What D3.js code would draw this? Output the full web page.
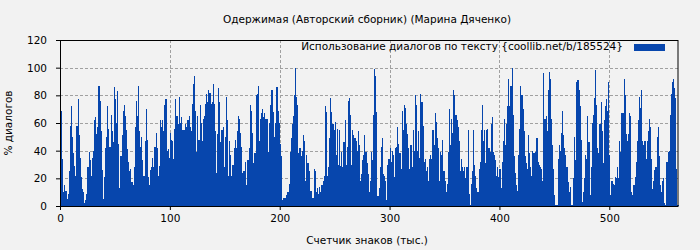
<!DOCTYPE html>
<html>
  <head>
    <meta charset="utf-8"/>
    <title>Одержимая — диалоги</title>
    <style type="text/css">
body {
  margin: 0;
  background: #f2f2f2;
}
svg {
  display: block;
  font-family: "DejaVu Sans", sans-serif;
  font-size: 10.5px;
}
.grid line {
  stroke: #a0a0a0;
  stroke-dasharray: 3,2;
}
    </style>
  </head>
  <body>
    <div id="chart"></div>
    <script src="https://cdn.jsdelivr.net/npm/d3@7"></script>
    <script>
    // % of dialogue per 1000 chars in chunks
    const pct000 = [51,69,34,10,15,11,5,9,25,58,72,50,38,29,22,58,77,51,35,21,12,10,2,4,9,28,39,33,22,35,40,62,64,52,57,87,76,54,26,5,21,42,50,72,56,43,66,54,46,86,77,60,83,45,13,36,51,69,73,65,55,41,32,25,27,17,15,28];
    const pct068 = [57,76,65,87,54,43,50,33,22,47,70,48,21,15,26,28,35,28,43,53,42,22,29,62,57,62,54,73,77,40,41,35,53,48,47,34,56,77,65,59,79,60,64,55,55,55,59,57,62,65,57,54,74,88,94,69,39,65,48,73,60,47,63,65,74,81,75,84];
    const pct136 = [82,74,75,88,74,54,24,52,85,75,46,55,57,28,50,79,62,22,47,37,22,30,42,48,42,54,65,63,53,43,24,25,32,15,33,33,42,73,69,53,31,38,80,81,87,47,63,67,70,64,67,63,63,39,60,73,84,84,68,50,60,86,69,60,45,36,4,6];
    const pct204 = [6,6,8,10,16,39,49,59,65,80,100,79,73,38,42,36,40,51,47,18,37,31,31,25,11,6,6,27,25,10,13,9,14,10,15,18,22,72,68,22,28,49,78,68,59,55,61,37,56,30,55,29,39,28,46,62,30,43,76,78,66,30,55,51,49,47,40,54,44];
    const pct273 = [18,23,33,37,51,39,31,23,10,18,39,33,66,99,94,68,7,13,28,43,49,23,22,18,4,30,34,42,32,40,37,21,42,43,57,45,38,27,69,55,73,71,59,52,42,27,44,28,55,40,80,73,40,54,35,81,75,58,32,34,25,28,18,34,37,34,55,44];
    const pct341 = [67,61,49,42,18,39,37,48,25,18,10,16,39,70,44,63,53,84,80,66,62,57,47,25,34,28,25,28,20,28,55,9,1,16,25,55,30,22,13,10,27,32,55,73,47,55,31,55,56,42,39,59,64,39,37,33,22,28,21,27,13,32,47,63,44,59,72,92];
    const pct409 = [72,87,100,66,36,24,15,11,37,56,87,80,70,54,36,31,27,51,38,28,22,40,38,39,49,49,32,30,28,27,18,96,63,65,54,84,97,92,63,44,27,8,1,1,34,44,40,53,69,51,42,37,28,17,10,14,1,1,20,50,33,90,91,84,72,48,3,10];
    const pct477 = [20,37,34,65,46,8,28,60,66,78,98,73,42,38,59,75,54,31,62,72,77,69,90,37,8,18,16,15,21,20,28,20,47,39,67,67,92,80,52,47,52,67,65,10,8,15,21,32,47,62,79,71,84,47,44,47,34,47,54,63,57,34,12,18,26,28,50,57,36,15,10,18,20,2,1,32,39,40,66,81,90,92,85,78,27,1];

    const xTicks = [0, 100, 200, 300, 400, 500];
    const yTicks = [0, 20, 40, 60, 80, 100, 120];

    const title = "Одержимая (Авторский сборник) (Марина Дяченко)";
    const seriesName = "Использование диалогов по тексту {coollib.net/b/185524}";

    const values = [].concat(pct000, pct068, pct136, pct204, pct273, pct341, pct409, pct477);

    const width = 700, height = 250;
    const plotL = 60, plotR = 678.5, plotT = 40, plotB = 206;
    const barColor = "#0746ad";

    const x = d3.scaleLinear().domain([0, values.length]).range([plotL, plotR]);
    const y = d3.scaleLinear().domain([0, 120]).range([plotB, plotT]);

    const svg = d3.select("#chart").append("svg")
        .attr("width", width)
        .attr("height", height);

    svg.append("rect")
        .attr("width", width).attr("height", height)
        .attr("fill", "#f2f2f2");

    // grid
    const grid = svg.append("g").attr("class", "grid");
    grid.selectAll(".gy")
        .data(yTicks.filter(d => d > 0 && d < 120))
        .enter().append("line")
        .attr("x1", plotL).attr("x2", plotR)
        .attr("y1", d => Math.round(y(d)) + 0.5)
        .attr("y2", d => Math.round(y(d)) + 0.5);
    grid.selectAll(".gx")
        .data(xTicks.filter(d => d > 0))
        .enter().append("line")
        .attr("y1", plotT).attr("y2", plotB)
        .attr("x1", d => Math.round(x(d)) + 0.5)
        .attr("x2", d => Math.round(x(d)) + 0.5);

    // bars, snapped to whole pixels so neighbours touch
    svg.append("g")
        .attr("shape-rendering", "crispEdges")
        .selectAll("rect")
        .data(values)
        .enter()
        .append("rect")
        .attr("x", (d, i) => Math.round(x(i)))
        .attr("width", (d, i) => Math.round(x(i + 1)) - Math.round(x(i)))
        .attr("y", d => Math.round(y(d)))
        .attr("height", d => Math.round(y(0)) - Math.round(y(d)))
        .attr("fill", barColor);

    // axes
    const xAxis = svg.append("g")
        .attr("transform", `translate(0,${plotB})`)
        .call(d3.axisBottom(x).tickValues(xTicks).tickSize(4).tickPadding(5));
    const yAxis = svg.append("g")
        .attr("transform", `translate(${plotL},0)`)
        .call(d3.axisLeft(y).tickValues(yTicks).tickSize(4).tickPadding(9));
    [xAxis, yAxis].forEach(g => {
      g.select(".domain").remove();
      g.selectAll("text").attr("font-family", "DejaVu Sans").attr("font-size", 10.5).attr("fill", "#000");
      g.selectAll("line").attr("stroke", "#000");
    });

    svg.append("rect")
        .attr("x", plotL + 0.5).attr("y", plotT + 0.5)
        .attr("width", plotR - plotL - 1).attr("height", plotB - plotT)
        .attr("fill", "none")
        .attr("stroke", "#000");

    // labels
    svg.append("text")
        .attr("x", 367).attr("y", 23)
        .attr("text-anchor", "middle")
        .text(title);

    svg.append("text")
        .attr("x", 367).attr("y", 244)
        .attr("text-anchor", "middle")
        .text("Счетчик знаков (тыс.)");

    svg.append("text")
        .attr("transform", "translate(12,123) rotate(-90)")
        .attr("text-anchor", "middle")
        .text("% диалогов");

    // legend
    svg.append("text")
        .attr("x", 623).attr("y", 50)
        .attr("text-anchor", "end")
        .text(seriesName);
    svg.append("rect")
        .attr("x", 634).attr("y", 44)
        .attr("width", 31).attr("height", 7)
        .attr("fill", barColor);
    </script>
  </body>
</html>
